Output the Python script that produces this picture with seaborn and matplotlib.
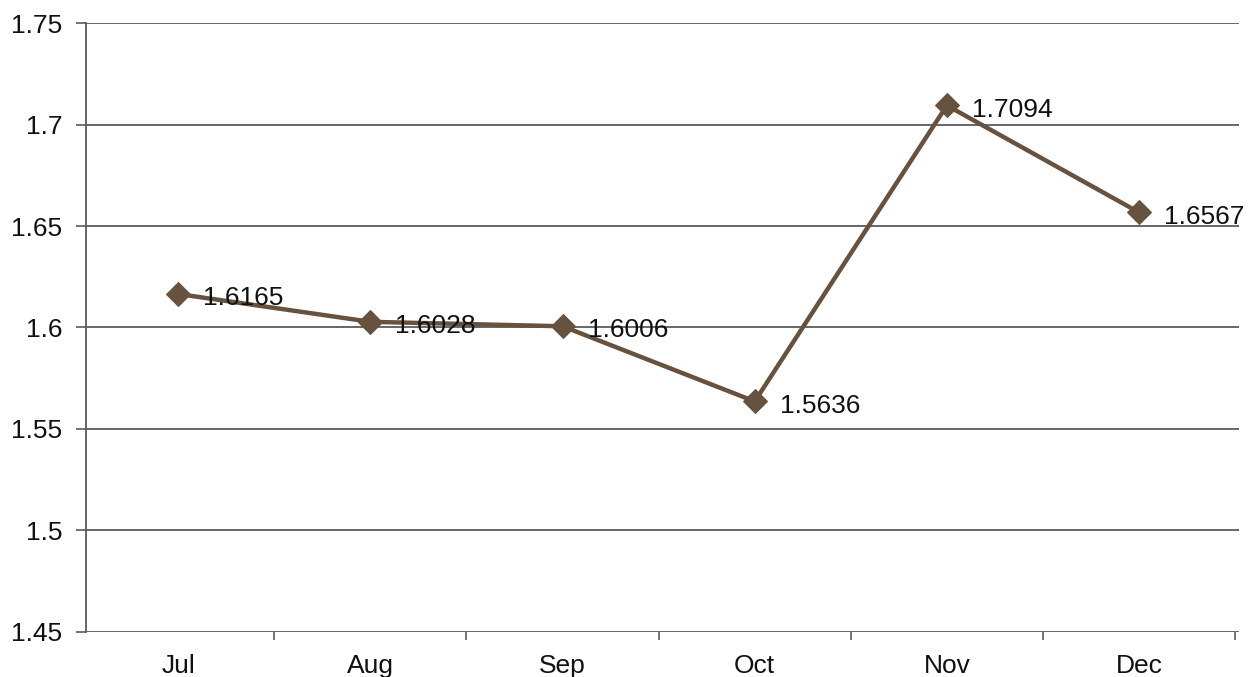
import matplotlib
matplotlib.use("Agg")
import matplotlib.pyplot as plt
import seaborn as sns
import pandas as pd
import numpy as np

months = ["Jul", "Aug", "Sep", "Oct", "Nov", "Dec"]
values = [1.6165, 1.6028, 1.6006, 1.5636, 1.7094, 1.6567]
y_ticks = [1.45, 1.5, 1.55, 1.6, 1.65, 1.7, 1.75]
y_tick_labels = ["1.45", "1.5", "1.55", "1.6", "1.65", "1.7", "1.75"]

sns.set_theme(style="white")
plt.rcParams["font.family"] = ["Liberation Sans", "DejaVu Sans"]

df = pd.DataFrame({"month": months, "value": values})

fig = plt.figure(figsize=(12.54, 6.77), dpi=100)
ax = fig.add_axes([0.0686, 0.0665, 0.9194, 0.8995])

line_color = "#67523f"
sns.lineplot(data=df, x="month", y="value", ax=ax, color=line_color,
             linewidth=3.2, marker="D", markersize=12, markeredgecolor=line_color,
             markerfacecolor=line_color, sort=False, zorder=3)

for i, v in enumerate(values):
    ax.annotate(f"{v:.4f}", (i, v), xytext=(18, -3), textcoords="offset points",
                ha="left", va="center", fontsize=19, color="#111111", zorder=4)

ax.set_xlim(-0.48, len(months) - 0.48)
ax.set_ylim(1.45, 1.75)
ax.set_yticks(y_ticks)
ax.set_yticklabels(y_tick_labels)
ax.set_xticks(range(len(months)))
ax.set_xticklabels(months)
ax.set_xticks(np.arange(0.5, len(months), 1.0), minor=True)
ax.set_xlabel("")
ax.set_ylabel("")

grid_color = "#5a5a5a"
ax.yaxis.grid(True, color=grid_color, linewidth=1.3)
ax.xaxis.grid(False)
for s in ["top", "right", "bottom"]:
    ax.spines[s].set_visible(False)
ax.spines["left"].set_color(grid_color)
ax.spines["left"].set_linewidth(1.3)

ax.tick_params(axis="y", which="major", left=True, length=7, width=1.2,
               color=grid_color, labelsize=19, pad=10, labelcolor="#111111")
ax.tick_params(axis="x", which="major", bottom=False, length=0, labelsize=19,
               pad=16, labelcolor="#111111")
ax.tick_params(axis="x", which="minor", bottom=True, length=6, width=1.2,
               color=grid_color)

fig.savefig("out.png", dpi=100, facecolor="white")
